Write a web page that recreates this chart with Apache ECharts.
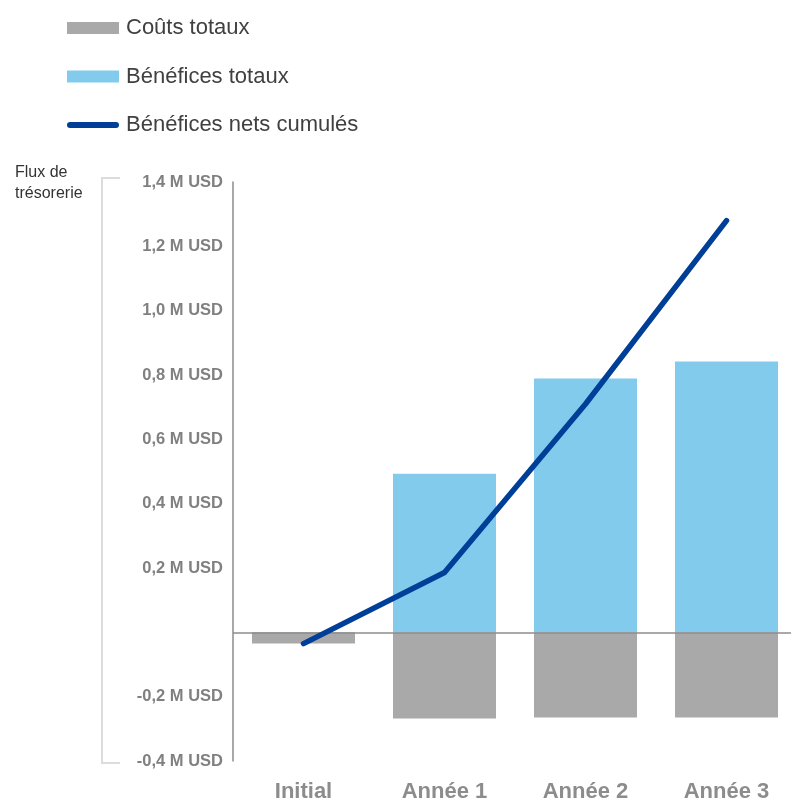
<!DOCTYPE html>
<html lang="fr">
<head>
    <meta charset="UTF-8">
    <title>Flux de trésorerie</title>
    <script src="https://cdn.jsdelivr.net/npm/echarts@6/dist/echarts.min.js"></script>
    <style>
        html, body { margin: 0; padding: 0; background: #ffffff; }
        #main { width: 791px; height: 800px; }
    </style>
</head>
<body>
<div id="main"></div>
<script type="text/javascript">
    // données (M USD)
    var categories = ['Initial', 'Année 1', 'Année 2', 'Année 3'];
    var couts = [-0.035, -0.268, -0.265, -0.265];
    var benefices = [0, 0.493, 0.789, 0.842];
    var cumules = [-0.035, 0.186, 0.71, 1.28];
    var seriesNames = ['Coûts totaux', 'Bénéfices totaux', 'Bénéfices nets cumulés'];

    var font = '"Liberation Sans", Arial, sans-serif';

    var myChart = echarts.init(document.getElementById('main'));

    var option = {
        animation: false,
        textStyle: { fontFamily: font },
        title: {
            text: 'Flux de\ntrésorerie',
            left: 10,
            top: 157,
            textStyle: { fontFamily: font, fontSize: 16, fontWeight: 'normal', color: '#333333', lineHeight: 21 }
        },
        legend: {
            orient: 'vertical',
            left: 62,
            top: 12,
            itemWidth: 52,
            itemHeight: 12,
            itemGap: 26.5,
            symbolKeepAspect: true,
            data: [
                { name: seriesNames[0], icon: 'rect' },
                { name: seriesNames[1], icon: 'rect' },
                { name: seriesNames[2], icon: 'path://M3,0 L49,0 A3,3 0 0 1 49,6 L3,6 A3,3 0 0 1 3,0 Z' }
            ],
            textStyle: { fontFamily: font, fontSize: 22, color: '#404040', padding: [0, 0, 0, 2] }
        },
        graphic: [{
            type: 'polyline',
            shape: { points: [[120, 178], [102, 178], [102, 763], [120, 763]] },
            style: { stroke: '#dcdcdc', lineWidth: 2, fill: null }
        }],
        grid: { left: 233, top: 182, width: 564, height: 579, outerBoundsMode: 'none', containLabel: false },
        xAxis: {
            type: 'category',
            data: categories,
            axisLine: { show: false },
            axisTick: { show: false },
            axisLabel: { margin: 20, fontSize: 22, fontWeight: 'bold', color: '#8c8c8c', fontFamily: font }
        },
        yAxis: {
            type: 'value',
            min: -0.4,
            max: 1.4,
            interval: 0.2,
            splitLine: { show: false },
            axisTick: { show: false },
            axisLine: { show: true, lineStyle: { color: '#8c8c8c', width: 1.5 } },
            axisLabel: {
                margin: 10,
                fontSize: 16.5,
                fontWeight: 'bold',
                color: '#808080',
                fontFamily: font,
                formatter: function (v) {
                    if (Math.abs(v) < 1e-9) return '';
                    return v.toFixed(1).replace('.', ',') + ' M USD';
                }
            }
        },
        series: [
            {
                name: seriesNames[0],
                type: 'bar',
                data: couts,
                barWidth: 103,
                barGap: '-100%',
                itemStyle: { color: '#a9a9a9' },
                markLine: {
                    silent: true,
                    symbol: 'none',
                    label: { show: false },
                    lineStyle: { color: '#8c8c8c', width: 1.5, type: 'solid' },
                    data: [{ yAxis: 0 }]
                }
            },
            {
                name: seriesNames[1],
                type: 'bar',
                data: benefices,
                barWidth: 103,
                barGap: '-100%',
                itemStyle: { color: '#82cbec' }
            },
            {
                name: seriesNames[2],
                type: 'line',
                data: cumules,
                symbol: 'none',
                z: 5,
                itemStyle: { color: '#003f98' },
                lineStyle: { color: '#003f98', width: 5.5, cap: 'round', join: 'round' }
            }
        ]
    };

    myChart.setOption(option);
</script>
</body>
</html>
